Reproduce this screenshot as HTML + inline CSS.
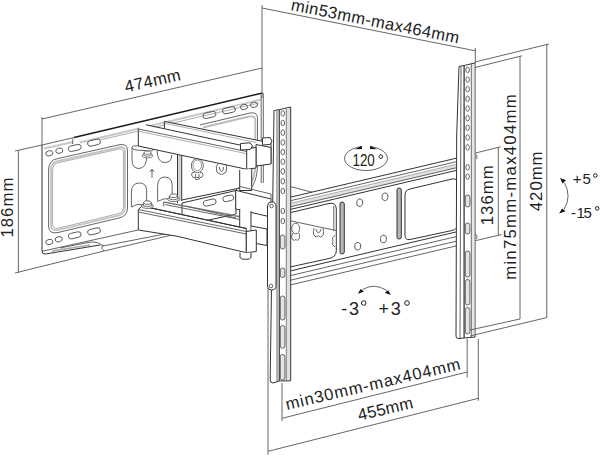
<!DOCTYPE html>
<html><head><meta charset="utf-8">
<style>
html,body{margin:0;padding:0;background:#fff;}
svg{display:block;}
text{font-family:"Liberation Sans",sans-serif;fill:#222;}
.d{stroke:#666;stroke-width:1;fill:none;}
.k{stroke:#333;stroke-width:1;fill:none;}
.m{stroke:#555;stroke-width:0.9;fill:none;}
.l{stroke:#999;stroke-width:0.8;fill:none;}
</style></head><body>
<svg width="600" height="456" viewBox="0 0 600 456">
<g id="plate"><path class="k" style="stroke:#1a1a1a;stroke-width:1.3" d="M74 137.5L262.5 93"/><path class="m" d="M42 145L74 137.5"/><path class="k" d="M42 145V251Q42 254.5 45.5 254L100 245"/><path class="l" style="stroke:#c8c8c8;stroke-width:2" d="M44 148.5L73 142 M80 142.5L261 99.5"/><path class="l" d="M100 140L259 103"/><path class="m" d="M73 138.5L72.5 144"/><path class="m" d="M261.2 93.5V183 M263.3 93V183"/><path class="m" d="M48.6 170Q48.6 160 58 158.5L119 144.8Q127.5 143 127.5 151V208Q127.5 216 119 218L58 232.5Q48.6 234.5 48.6 226Z"/><path class="l" style="stroke-width:1.8;stroke:#c4c4c4" d="M51 170Q51 162 58.5 161L119 147.3Q125 146 125 152V207Q125 213.5 119 215.3L58.5 229.8Q51 231.6 51 225Z"/><path class="l" d="M52.6 170Q52.6 163.5 59 162.6L119 149Q123.5 148 123.5 153V206Q123.5 212 119 213.5L59 228Q52.6 229.7 52.6 224Z"/><ellipse class="m" cx="49.3" cy="153.3" rx="3.6" ry="2.6" transform="rotate(-13 49.3 153.3)"/><ellipse class="m" cx="59.3" cy="150.7" rx="3.6" ry="2.6" transform="rotate(-13 59.3 150.7)"/><rect class="m" x="68.2" y="145.2" width="13" height="5.5" rx="2.8" transform="rotate(-13 74.7 148)"/><rect class="m" x="87.5" y="139.9" width="13" height="5.5" rx="2.8" transform="rotate(-13 94 142.7)"/><rect class="m" x="203" y="112.2" width="13" height="5.5" rx="2.8" transform="rotate(-13 209.5 115)"/><rect class="m" x="222.5" y="107.5" width="13" height="5.5" rx="2.8" transform="rotate(-13 229 110.3)"/><ellipse class="m" cx="244" cy="107" rx="3.6" ry="2.6" transform="rotate(-13 244 107)"/><ellipse class="m" cx="254" cy="104.8" rx="3.6" ry="2.6" transform="rotate(-13 254 104.8)"/><ellipse class="m" cx="49.3" cy="242" rx="3.6" ry="2.6" transform="rotate(-13 49.3 242)"/><ellipse class="m" cx="58.7" cy="239.3" rx="3.6" ry="2.6" transform="rotate(-13 58.7 239.3)"/><rect class="m" x="68.2" y="232.6" width="13" height="5.5" rx="2.8" transform="rotate(-13 74.7 235.3)"/><rect class="m" x="87.5" y="228.6" width="13" height="5.5" rx="2.8" transform="rotate(-13 94 231.3)"/><path class="m" d="M42 251.3L138 230 M60 248L88 242.5Q96 241 100 244L104 246"/><path class="l" style="stroke:#aaa;stroke-width:1.6" d="M52 251L90 245"/><path class="m" d="M102 245.5Q101 249 104 251L170 235.5 M103 246L170 233"/><path class="m" d="M200 125L250 113Q257.5 111.5 257.5 118.5V165Q257.5 178 252 187"/><path class="l" style="stroke:#bbb;stroke-width:1.8" d="M203 127.5L249 116.5Q255.3 115.5 255.3 120V165Q255.3 176 250 185"/></g><g id="inner"><path class="m" d="M132 148V160Q132 168.5 139 168.5Q146.6 168 146.6 157"/><path class="m" d="M131.9 147Q132 145.5 138 145.8L152.5 148.5Q154 150.5 151 151L136 150Q131.8 149.5 131.9 147Z"/><g transform="translate(147.5 154.8) scale(0.85)"><ellipse class="m" style="fill:#fff" cx="0" cy="1" rx="6.2" ry="2.6"/><path class="m" style="fill:#fff" d="M-4.3 -2.5V0.8Q0 2.6 4.3 0.8V-2.5"/><path class="m" style="fill:#fff" d="M-4.3 -2.5L-2.2 -4.3H2.2L4.3 -2.5L2.2 -0.8H-2.2Z"/></g><path class="m" d="M157.1 150.5Q157.5 162.5 164.5 162.5Q171.8 162.5 171.8 155"/><path class="m" d="M131.4 207V192.2Q131.5 183 139.5 183Q146.6 183.2 146.6 190.3V201.4"/><path class="m" d="M131.4 207L137 204.5L150 205"/><path class="m" d="M157.6 201.4V185.8Q157.8 177 165 177Q172.2 177.2 172.2 185.8V195"/><path class="m" d="M157.6 201.4L164 198.8L176 199"/><path class="m" d="M152 178V170 M150 172L152 169L154 172"/><path class="k" d="M177.5 152V203 M181.7 153V201"/><rect x="178.3" y="153" width="2.6" height="48" fill="#ccc"/><path class="k" d="M181.7 200L240 188"/><ellipse class="m" cx="197.3" cy="165.6" rx="6" ry="7"/><ellipse class="m" style="stroke:#888" cx="197.3" cy="165.3" rx="4.3" ry="5.3"/><path class="m" d="M194.5 172.5Q191 172 191.8 175.5Q192.5 178 194.5 177.5Q195 180 197.3 179.6Q199.6 180 200 177.5Q202 178 202.8 175.5Q203.5 172 200 172.5 M195.5 174V177.5H199V174"/><path class="m" d="M218 164Q215.5 166 216.5 169Q216 173 219 173.5Q221.5 175.5 224 173.5Q227 173 226.5 169Q227.5 166 225 164 M219.5 167Q219.5 171.5 221.5 171.5Q223.5 171.5 223.5 167"/></g><g id="arms"><path class="k" style="fill:#fff" d="M182 203L236 190.5V214L182 226Z"/><rect class="m" x="203.2" y="199.8" width="13" height="5.5" rx="2.8" transform="rotate(-13 209.7 202.6)"/><rect class="m" x="222.8" y="195.6" width="11" height="5.5" rx="2.8" transform="rotate(-13 228.3 198.3)"/><path class="m" d="M186 206L236 218"/><path class="l" d="M163.7 202L240 216"/><path style="fill:#fff" d="M164.4 121.4L271 143V164L164.4 142Z"/><path class="k" d="M164.4 121.4L262 141.2 M271 143V164"/><path class="l" d="M164.4 123.2L256 142.5"/><path class="k" d="M164.4 121.4V128.4"/><path class="k" style="fill:#fff" d="M256 144.5L271 147.5V164L256 166Z"/><path class="k" style="fill:#fff" d="M262.5 138L270 137.5L272 141L270 144.5L262.5 145Z"/><path style="fill:#fff" d="M138.3 128.4L142 124.5L250 147.2L246.7 150.5V169.3L138.3 146Z"/><path class="k" d="M138.3 128.4V146L246.7 169.3"/><path class="k" d="M146 124.8L250 147.2"/><path class="m" d="M138.3 129L246.7 151.5"/><path class="l" d="M138.3 131.2L246.7 153.7"/><path class="k" style="fill:#fff" d="M246.7 148.7L256 147.5V168L246.7 169.3Z"/><path class="m" d="M246.7 148.7L249.5 146.5L256 147.5"/><path class="k" style="fill:#fff" d="M240.5 143.5L250 142.8L252.5 146L250 149.5L240.5 150Z"/><path class="k" style="fill:#fff" d="M239.7 170V190.5H251.7V169"/><path class="k" style="fill:#fff" d="M235.7 190.3L271 199V217L235.7 209Z"/><path class="m" d="M240 186.5L271 194V199 M235.7 190.3L240 186.5"/><path class="k" style="fill:#fff" d="M239.7 209V232H251V211"/><path class="k" style="fill:#fff" d="M251 226L267 229V245.5L256 243.5"/><path class="k" style="fill:#fff" d="M138.3 209.5L142 206L246.3 228.5V231.5V252.7L176 236L138.3 230Z"/><path class="m" d="M138.3 209.5L246.3 231.5 M138.3 212L246.3 234"/><path class="k" d="M142 206L246.3 228.5"/><path class="m" d="M163.7 202V206.5 M163.7 202L240 217 M165 204.5L240 219.5"/><path class="k" style="fill:#fff" d="M246.3 231.5L256.3 230V251.5L246.3 252.7Z"/><path class="k" style="fill:#fff" d="M240 252.7V257Q240 259.3 245.5 259.3Q251 259.3 251 257V252.7"/><g transform="translate(147.5 205) scale(0.95)"><ellipse class="m" style="fill:#fff" cx="0" cy="1" rx="6.2" ry="2.6"/><path class="m" style="fill:#fff" d="M-4.3 -2.5V0.8Q0 2.6 4.3 0.8V-2.5"/><path class="m" style="fill:#fff" d="M-4.3 -2.5L-2.2 -4.3H2.2L4.3 -2.5L2.2 -0.8H-2.2Z"/></g><g transform="translate(173.5 198.2) scale(0.95)"><ellipse class="m" style="fill:#fff" cx="0" cy="1" rx="6.2" ry="2.6"/><path class="m" style="fill:#fff" d="M-4.3 -2.5V0.8Q0 2.6 4.3 0.8V-2.5"/><path class="m" style="fill:#fff" d="M-4.3 -2.5L-2.2 -4.3H2.2L4.3 -2.5L2.2 -0.8H-2.2Z"/></g></g><g id="tv"><path style="fill:#fff" d="M290 197L458 157.5V244L290 285Z"/><path style="fill:#e2e2e2" d="M290 203.4 L458 163.9 V167.4 L290 206.9 Z"/><path class="k" d="M290 197.3L458 157.8"/><path class="m" d="M290 200.8L458 161.3"/><path class="l" d="M290 203.4L458 163.9"/><path class="m" d="M290 206.9L458 167.4"/><path class="k" d="M290 209.5L458 170"/><path class="k" d="M290 271L458 231.5"/><path class="m" d="M290 275.7L458 236.2"/><path class="m" d="M290 280.3L458 240.8"/><path class="m" d="M290 285L458 245.5"/><path class="m" d="M290 186.5L312 192.2"/><path class="k" d="M290 212.7L329 203.5Q336 202 336.3 209V251Q336 257 329 258.5L290 267"/><path class="m" d="M290 220.7L336 230.5 M333.8 206V231"/><ellipse class="m" cx="295.7" cy="228.5" rx="4" ry="5.3"/><path class="m" d="M292.5 233Q290 239 294.5 240.5Q296 238 297 240.5Q301 239 299 233"/><path class="m" d="M314 228Q312 236 316.5 237Q318.5 234.5 320.5 237Q325 236 323 228 M316 229Q317 233 318.5 233Q320 233 321 229"/><path class="m" d="M335 235Q331 238 333 241Q331 245 335 247"/><path class="k" d="M405 195Q405 190 410 189L452 179Q458 178 458 184V224Q458 229 452 230.5L410 239.5Q405 240.5 405 235Z"/><rect class="k" style="fill:#b5b5b5" x="340" y="202" width="4.3" height="52" rx="2.1"/><rect class="k" style="fill:#b5b5b5" x="397" y="188" width="4.3" height="51" rx="2.1"/><ellipse class="m" cx="359.7" cy="202.7" rx="3" ry="3.8" transform="rotate(10 359.7 202.7)"/><ellipse class="m" cx="385" cy="196.8" rx="3" ry="3.8" transform="rotate(10 385 196.8)"/><ellipse class="m" cx="357.7" cy="246.3" rx="3" ry="3.8" transform="rotate(10 357.7 246.3)"/><ellipse class="m" cx="383.4" cy="239" rx="3" ry="3.8" transform="rotate(10 383.4 239)"/></g><g id="brackets"><path class="k" style="fill:#fff" d="M274 110.5L279.3 109.6V381L273 383Q270.2 383 270.2 380Z"/><path class="k" style="fill:#fff" d="M279.3 109.6L290.7 107V380.8L279.3 381Z"/><path class="m" d="M277 111V382 M286.3 108.5V381"/><rect x="286.8" y="108" width="3.2" height="272" style="fill:#e0e0e0"/><ellipse class="m" cx="282.8" cy="113.4" rx="1.8" ry="2.8"/><ellipse class="m" cx="282.8" cy="123" rx="1.8" ry="2.8"/><ellipse class="m" cx="282.8" cy="132.7" rx="1.8" ry="2.8"/><ellipse class="m" cx="282.8" cy="142.4" rx="1.8" ry="2.8"/><ellipse class="m" cx="282.8" cy="152" rx="1.8" ry="2.8"/><ellipse class="m" cx="282.8" cy="161.7" rx="1.8" ry="2.8"/><ellipse class="m" cx="282.8" cy="171.3" rx="1.8" ry="2.8"/><ellipse class="m" cx="282.8" cy="181.2" rx="1.8" ry="2.8"/><ellipse class="m" cx="282.8" cy="191" rx="1.8" ry="2.8"/><ellipse class="m" cx="282.8" cy="211" rx="1.8" ry="2.8"/><ellipse class="m" cx="282.8" cy="221" rx="1.8" ry="2.8"/><rect class="m" style="fill:#e4e4e4" x="280.3" y="235" width="4.6" height="14" rx="2.3"/><rect class="m" style="fill:#e4e4e4" x="280.3" y="268" width="4.6" height="9.5" rx="2.3"/><rect class="m" style="fill:#e4e4e4" x="280.3" y="296" width="4.6" height="24" rx="2.3"/><rect class="m" style="fill:#e4e4e4" x="280.3" y="325.5" width="4.6" height="22.8" rx="2.3"/><rect class="m" style="fill:#e4e4e4" x="280.3" y="354.5" width="4.6" height="25.5" rx="2.3"/><path class="k" style="fill:#fff" d="M267.5 206Q267.5 202 271.5 202Q276 202 276 206V286Q276 290 271.5 290Q267.5 290 267.5 286Z"/><circle class="m" cx="271.5" cy="206" r="1.8"/><circle class="m" cx="271" cy="286" r="1.8"/><path class="k" style="fill:#fff" d="M459 66.4L464.2 65.5V338L458 338.5Q456 338.5 456 336L456.7 135Z"/><path class="k" style="fill:#fff" d="M464.2 65.5L475 62.9V337L464.2 338Z"/><path class="m" d="M461 66.5L460 338 M471.3 63.7V337.5"/><rect x="472" y="64" width="2.4" height="272" fill="#e6e6e6"/><ellipse class="m" cx="467.6" cy="69.9" rx="1.8" ry="2.8"/><ellipse class="m" cx="467.6" cy="79.6" rx="1.8" ry="2.8"/><ellipse class="m" cx="467.6" cy="89.2" rx="1.8" ry="2.8"/><ellipse class="m" cx="467.6" cy="98.9" rx="1.8" ry="2.8"/><ellipse class="m" cx="467.6" cy="108.5" rx="1.8" ry="2.8"/><ellipse class="m" cx="467.6" cy="118.2" rx="1.8" ry="2.8"/><ellipse class="m" cx="467.6" cy="127.8" rx="1.8" ry="2.8"/><ellipse class="m" cx="467.6" cy="137.5" rx="1.8" ry="2.8"/><ellipse class="m" cx="467.6" cy="147.4" rx="1.8" ry="2.8"/><ellipse class="m" cx="467.6" cy="167.3" rx="1.8" ry="2.8"/><ellipse class="m" cx="467.6" cy="176.6" rx="1.8" ry="2.8"/><rect class="m" style="fill:#e4e4e4" x="465.3" y="195" width="4.6" height="12" rx="2.3"/><rect class="m" style="fill:#e4e4e4" x="465.3" y="223" width="4.6" height="11" rx="2.3"/><rect class="m" style="fill:#e4e4e4" x="465.3" y="251" width="4.6" height="26" rx="2.3"/><rect class="m" style="fill:#e4e4e4" x="465.3" y="279.5" width="4.6" height="25.5" rx="2.3"/><rect class="m" style="fill:#e4e4e4" x="465.3" y="307.5" width="4.6" height="26.5" rx="2.3"/><path class="m" d="M475 154Q478 155 476.5 159 M475 234Q478 235 476.5 239"/></g>
<g id="dims" class="d">
<path d="M42 117V145 M262 5V98 M42 119L262 68"/>
<path d="M262 8L475.3 50.8 M475.3 48V63"/>
<path d="M18.4 151V273 M15 151L42 145 M15 273L104 251"/>
<path d="M546.8 44.5V317.5 M475 62L549 44 M470 336L547 317.5"/>
<path d="M520 56V319 M475 67.5L522 55.8 M470 330L520 319"/>
<path d="M498.3 147V235 M475.5 153L500.7 146.8 M475.3 240.7L501.6 234.6"/>
<path d="M282 383V421 M467.2 339V377.5 M282 418.3L467.2 372"/>
<path d="M268 288V454.7 M478.3 339V400.8 M268 451.3L478.3 398.3"/>
</g>
<g id="labels">
<text transform="translate(126,92.5) rotate(-12.8)" font-size="16.6" textLength="57" lengthAdjust="spacing">474mm</text>
<text transform="translate(290.3,10) rotate(11.3)" font-size="16.6" textLength="171" lengthAdjust="spacing">min53mm-max464mm</text>
<text transform="translate(12.8,237.6) rotate(-90)" font-size="16.8" textLength="60" lengthAdjust="spacing">186mm</text>
<text transform="translate(541.9,211.2) rotate(-90)" font-size="16.8" textLength="59.8" lengthAdjust="spacing">420mm</text>
<text transform="translate(516.4,279.8) rotate(-90)" font-size="16.8" textLength="185.5" lengthAdjust="spacing">min75mm-max404mm</text>
<text transform="translate(493.3,225.3) rotate(-90)" font-size="16.8" textLength="60" lengthAdjust="spacing">136mm</text>
<text transform="translate(287,410) rotate(-13.2)" font-size="16.6" textLength="179" lengthAdjust="spacing">min30mm-max404mm</text>
<text transform="translate(359.2,420.8) rotate(-13.3)" font-size="16.6" textLength="56.3" lengthAdjust="spacing">455mm</text>
<text x="352.5" y="165.7" font-size="16" textLength="22.3" lengthAdjust="spacingAndGlyphs">120</text>
<circle cx="380.8" cy="156.6" r="1.8" class="d" style="stroke:#222"/>
<path class="d" d="M361.5 146.6A21.5 12.1 0 1 0 370.5 146.6"/>
<path fill="#111" d="M355 149.3L361.8 145.8L362 149Z M377 149.3L370.2 145.8L370 149Z"/>
<text x="341.2" y="314.7" font-size="18">-</text><text x="349" y="314.7" font-size="18">3</text>
<circle cx="363.7" cy="303" r="2.3" class="d" style="stroke:#222"/>
<text x="378.6" y="314.7" font-size="18">+</text><text x="390.8" y="314.7" font-size="18">3</text>
<circle cx="407" cy="303" r="2.3" class="d" style="stroke:#222"/>
<path class="d" d="M362.5 289.6Q374.2 282.5 386.7 290.4"/>
<path fill="#111" d="M357.9 293.8L360.5 289L364 291.5Z M390.8 295L388.2 290.2L384.7 292.7Z"/>
<text x="572.8" y="184" font-size="15">+</text><text x="582.6" y="184" font-size="15">5</text>
<circle cx="595.3" cy="175.5" r="1.8" class="d" style="stroke:#222"/>
<text x="571" y="217.6" font-size="15">-</text><text x="576.5" y="217.6" font-size="15">1</text><text x="583.5" y="217.6" font-size="15">5</text>
<circle cx="597.2" cy="208.4" r="1.8" class="d" style="stroke:#222"/>
<path class="d" d="M564.6 183.1Q571.8 196.2 564.1 209.4"/>
<path fill="#111" d="M560.1 178.1L566 180.2L562.5 183.5Z M559.1 213.4L562 208.6L565.5 211.2Z"/>
</g>
</svg>
</body></html>
